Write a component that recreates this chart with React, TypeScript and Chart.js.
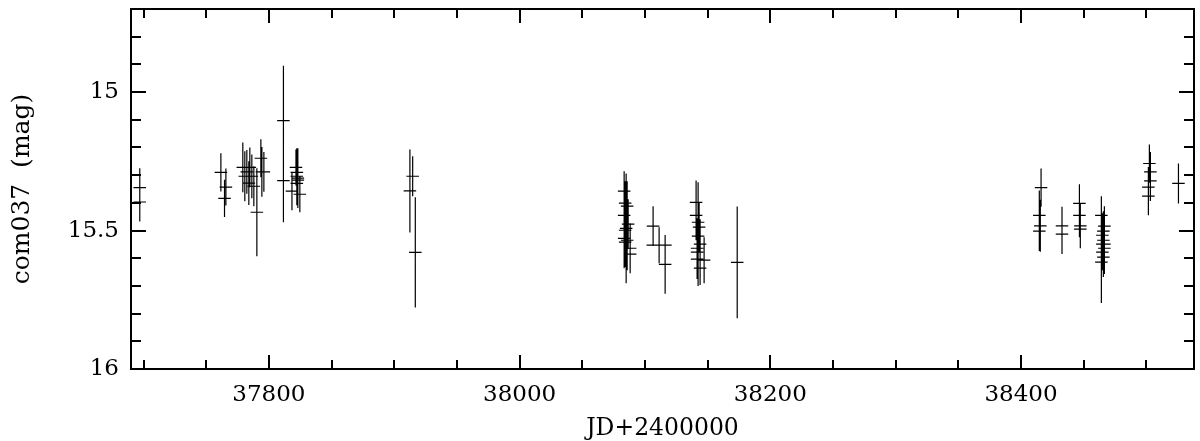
import React, { useEffect, useRef } from "react";
import { Chart, registerables } from "chart.js";

Chart.register(...registerables);

// Julian date - 2400000
const jd = [
  37697.0, 37697.0,
  37761.7, 37765.7, 37764.6,
  37779.2, 37780.8, 37782.4, 37784.0, 37784.8, 37786.4, 37788.0, 37790.4, 37793.6, 37794.4, 37796.0,
  37811.6, 37811.6,
  37821.6, 37822.3, 37822.3, 37823.1, 37822.3, 37818.4, 37824.7, 37823.1,
  37912.5, 37914.7, 37916.8,
  38083.4, 38084.2, 38085.8, 38083.4, 38086.6, 38085.0, 38084.2, 38083.4, 38085.8, 38084.2, 38088.2, 38088.2,
  38106.5, 38111.3, 38116.1,
  38140.8, 38140.8, 38142.4, 38143.2, 38142.4, 38144.0, 38141.6, 38141.6, 38141.6, 38147.2, 38144.0,
  38173.6,
  38416.0, 38414.6, 38415.4, 38414.6,
  38432.7, 38432.7,
  38446.6, 38446.6, 38447.3, 38447.3,
  38464.1, 38466.5, 38465.7, 38464.9, 38465.7, 38464.9, 38466.5, 38464.9, 38465.7, 38464.1, 38466.5,
  38502.4, 38503.2, 38503.2, 38501.6, 38501.6,
  38525.6,
];

// magnitude
const mag = [
  15.345, 15.397,
  15.290, 15.343, 15.384,
  15.272, 15.304, 15.288, 15.329, 15.272, 15.304, 15.340, 15.434, 15.239, 15.288, 15.288,
  15.103, 15.320,
  15.272, 15.290, 15.304, 15.318, 15.330, 15.358, 15.369, 15.311,
  15.357, 15.304, 15.579,
  15.358, 15.401, 15.412, 15.445, 15.477, 15.492, 15.499, 15.528, 15.535, 15.542, 15.564, 15.585,
  15.484, 15.553, 15.622,
  15.398, 15.445, 15.470, 15.488, 15.520, 15.549, 15.564, 15.578, 15.603, 15.607, 15.636,
  15.615,
  15.345, 15.445, 15.483, 15.502,
  15.483, 15.513,
  15.402, 15.445, 15.483, 15.495,
  15.445, 15.484, 15.502, 15.517, 15.535, 15.549, 15.564, 15.578, 15.596, 15.614, 15.549,
  15.258, 15.288, 15.321, 15.343, 15.376,
  15.330,
];

// magnitude error (half length of vertical bar)
const magErr = [
  0.070, 0.070,
  0.069, 0.067, 0.067,
  0.090, 0.090, 0.079, 0.079, 0.072, 0.079, 0.072, 0.159, 0.069, 0.090, 0.072,
  0.198, 0.150,
  0.065, 0.072, 0.101, 0.090, 0.079, 0.069, 0.065, 0.108,
  0.150, 0.072, 0.199,
  0.072, 0.079, 0.090, 0.079, 0.090, 0.198, 0.090, 0.108, 0.108, 0.090, 0.090, 0.068,
  0.072, 0.065, 0.106,
  0.079, 0.090, 0.144, 0.090, 0.180, 0.090, 0.108, 0.090, 0.072, 0.083, 0.061,
  0.202,
  0.069, 0.090, 0.094, 0.072,
  0.069, 0.072,
  0.069, 0.079, 0.079, 0.069,
  0.069, 0.072, 0.072, 0.079, 0.090, 0.072, 0.079, 0.065, 0.072, 0.148, 0.108,
  0.069, 0.072, 0.072, 0.072, 0.069,
  0.072,
];

// time bin half width (days)
const jdErr = [
  5, 5,
  5, 5, 5,
  5, 5, 5, 5, 5, 5, 5, 5, 5, 5, 5,
  5, 5,
  5, 5, 5, 5, 5, 5, 5, 5,
  5, 5, 5,
  5, 5, 5, 5, 5, 5, 5, 5, 5, 5, 5, 5,
  5, 10, 5,
  5, 5, 5, 5, 5, 5, 5, 5, 5, 5, 5,
  5,
  5, 5, 5, 5,
  5, 5,
  5, 5, 5, 5,
  5, 5, 5, 5, 5, 5, 5, 5, 5, 5, 5,
  5, 5, 5, 5, 5,
  5,
];

const xTickValues = [37800, 38000, 38200, 38400];
const yTickValues = [15, 15.5, 16];
const xTitle = "JD+2400000";
const yTitle = "com037  (mag)";

const X_MIN = 37690;
const X_MAX = 38538;
const Y_MIN = 14.7;
const Y_MAX = 16;

const errorBarPlugin = {
  id: "errorBars",
  afterDatasetsDraw(chart: any) {
    const { ctx, chartArea: a } = chart;
    const xs = chart.scales.x;
    const ys = chart.scales.y;
    ctx.save();
    ctx.beginPath();
    ctx.rect(a.left, a.top, a.right - a.left, a.bottom - a.top);
    ctx.clip();
    ctx.strokeStyle = "#000";
    ctx.lineWidth = 1.2;
    ctx.beginPath();
    chart.data.datasets.forEach((ds: any) => {
      ds.data.forEach((p: any) => {
        const px = xs.getPixelForValue(p.x);
        const py = ys.getPixelForValue(p.y);
        const x0 = xs.getPixelForValue(p.x - p.xErr);
        const x1 = xs.getPixelForValue(p.x + p.xErr);
        const y0 = ys.getPixelForValue(p.y - p.yErr);
        const y1 = ys.getPixelForValue(p.y + p.yErr);
        ctx.moveTo(x0, py);
        ctx.lineTo(x1, py);
        ctx.moveTo(px, y0);
        ctx.lineTo(px, y1);
      });
    });
    ctx.stroke();
    ctx.restore();
  },
};

const framePlugin = {
  id: "frameTicks",
  afterDraw(chart: any) {
    const { ctx, chartArea: a } = chart;
    const xs = chart.scales.x;
    const ys = chart.scales.y;
    ctx.save();
    ctx.strokeStyle = "#000";
    ctx.lineWidth = 2;
    ctx.strokeRect(a.left, a.top, a.right - a.left, a.bottom - a.top);
    ctx.beginPath();
    for (let v = 37700; v <= X_MAX; v += 50) {
      const px = Math.round(xs.getPixelForValue(v));
      const len = v % 200 === 0 ? 14 : 9;
      ctx.moveTo(px, a.bottom);
      ctx.lineTo(px, a.bottom - len);
      ctx.moveTo(px, a.top);
      ctx.lineTo(px, a.top + len);
    }
    for (let i = 148; i <= 159; i++) {
      const v = i / 10;
      const py = Math.round(ys.getPixelForValue(v));
      const len = i % 5 === 0 ? 15 : 10;
      ctx.moveTo(a.left, py);
      ctx.lineTo(a.left + len, py);
      ctx.moveTo(a.right, py);
      ctx.lineTo(a.right - len, py);
    }
    ctx.stroke();
    ctx.restore();
  },
};

export default function App() {
  const canvasRef = useRef<HTMLCanvasElement | null>(null);

  useEffect(() => {
    document.body.style.margin = "0";
    const canvas = canvasRef.current;
    if (!canvas) return;
    Chart.defaults.font.family = "'DejaVu Serif', serif";
    Chart.defaults.color = "#000";

    const points = jd.map((x, i) => ({ x, y: mag[i], yErr: magErr[i], xErr: jdErr[i] }));

    const chart = new Chart(canvas, {
      type: "scatter",
      data: {
        datasets: [
          {
            label: "com037",
            data: points,
            pointRadius: 0,
            pointHoverRadius: 0,
            borderColor: "#000",
            backgroundColor: "#000",
          },
        ],
      },
      options: {
        responsive: false,
        animation: false,
        devicePixelRatio: 1,
        layout: { padding: { left: 0, right: 6, top: 9, bottom: 0 } },
        plugins: {
          legend: { display: false },
          tooltip: { enabled: false },
        },
        scales: {
          x: {
            type: "linear",
            min: X_MIN,
            max: X_MAX,
            grid: { display: false, drawTicks: false },
            border: { display: false },
            afterBuildTicks: (scale: any) => {
              scale.ticks = xTickValues.map((value) => ({ value }));
            },
            afterFit: (scale: any) => {
              scale.height = 72;
              scale.paddingLeft = 0;
              scale.paddingRight = 0;
            },
            ticks: {
              autoSkip: false,
              maxRotation: 0,
              padding: 12,
              font: { size: 23 },
              color: "#000",
              callback: (v: any) => String(v),
            },
            title: {
              display: true,
              text: xTitle,
              color: "#000",
              font: { size: 23.5, lineHeight: 1 },
              padding: { top: 0, bottom: 0 },
            },
          },
          y: {
            type: "linear",
            reverse: true,
            min: Y_MIN,
            max: Y_MAX,
            grid: { display: false, drawTicks: false },
            border: { display: false },
            afterBuildTicks: (scale: any) => {
              scale.ticks = yTickValues.map((value) => ({ value }));
            },
            afterFit: (scale: any) => {
              scale.width = 131;
              scale.paddingTop = 0;
              scale.paddingBottom = 0;
            },
            ticks: {
              autoSkip: false,
              padding: 12,
              font: { size: 23 },
              color: "#000",
              callback: (v: any) => String(v),
            },
            title: {
              display: true,
              text: yTitle,
              color: "#000",
              font: { size: 25, lineHeight: 1 },
              padding: { top: 10, bottom: 0 },
            },
          },
        },
      },
      plugins: [errorBarPlugin, framePlugin],
    });

    return () => chart.destroy();
  }, []);

  return (
    <div style={{ width: 1200, height: 441, position: "relative" }}>
      <canvas ref={canvasRef} width={1200} height={441} style={{ display: "block" }} />
    </div>
  );
}
